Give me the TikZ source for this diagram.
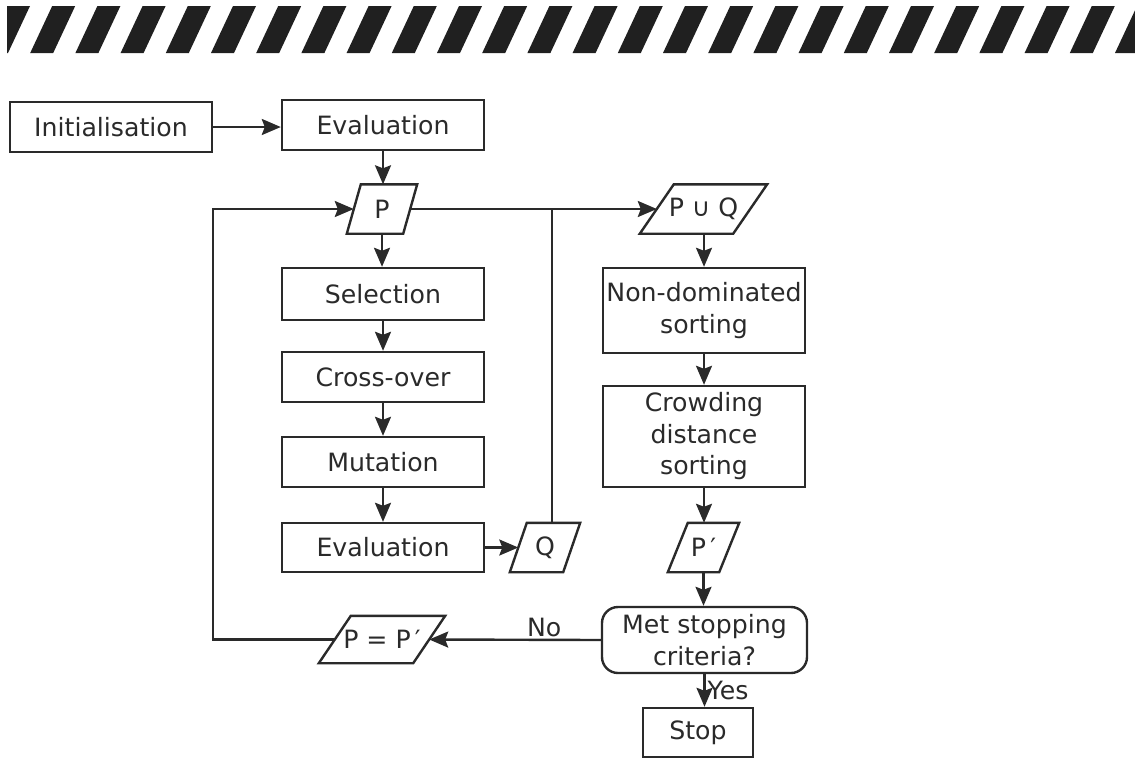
\documentclass[tikz,border=0pt]{standalone}
\usepackage{fontspec}
\setmainfont{DejaVu Sans}
\usetikzlibrary{arrows.meta}
\definecolor{ink}{HTML}{2A2A2A}
\definecolor{stripecol}{HTML}{202020}
\newcommand{\parashape}[2]{\draw[ln] ([xshift=#2pt]#1.north west) -- (#1.north east) -- ([xshift=-#2pt]#1.south east) -- (#1.south west) -- cycle;}
\begin{document}
\begin{tikzpicture}[x=1pt,y=-1pt,
  txt/.style={text=ink, font=\fontsize{25.2}{31.5}\selectfont},
  box/.style={txt, draw=ink, line width=2.4pt, fill=white, minimum width=202pt, minimum height=50pt, inner sep=0pt, align=center},
  para/.style={txt, minimum height=49pt, inner sep=0pt},
  ln/.style={draw=ink, line width=2.4pt},
  arr/.style={ln, -{Stealth[length=19pt,width=16pt,inset=3pt]}}]
\useasboundingbox (0,0) rectangle (1135,758);
% striped band
\begin{scope}
  \clip (7,6) rectangle (1135,53);
  \foreach \k in {0,...,25} {
    \fill[stripecol] ({7+45.2*\k},6) -- ({30+45.2*\k},6) -- ({8+45.2*\k},53) -- ({-15+45.2*\k},53) -- cycle;
  }
\end{scope}
% nodes
\node[box] (init) at (111,127) {Initialisation};
\node[box] (ev1) at (383,125) {Evaluation};
\node[para, minimum width=70pt] (P) at (382,209) {P};
\node[box, minimum height=52pt] (sel) at (383,294) {Selection};
\node[box] (cross) at (383,377) {Cross-over};
\node[box] (mut) at (383,462) {Mutation};
\node[box, minimum height=49pt] (ev2) at (383,547.5) {Evaluation};
\node[para, minimum width=70pt] (Q) at (545,547.5) {Q};
\node[para, minimum width=127pt] (PQ) at (703.5,209) {P ∪ Q};
\node[box, minimum height=85pt] (nds) at (704,310.5) {Non-dominated\\sorting};
\node[box, minimum height=101pt] (cds) at (704,436.5) {Crowding\\distance\\sorting};
\node[para, minimum width=71pt] (Pp) at (703.5,547.5) {P\,′};
\node[box, rounded corners=16pt, minimum width=205pt, minimum height=66pt] (met) at (704.5,640) {Met stopping\\criteria?};
\node[box, minimum width=110pt, minimum height=49pt] (stop) at (698,732.5) {Stop};
\node[para, minimum width=126pt, minimum height=47pt] (PeqP) at (382,639.5) {P = P\,′};
% parallelograms
\parashape{P}{14}
\parashape{Q}{17}
\parashape{PQ}{34}
\parashape{Pp}{20}
\parashape{PeqP}{32}
% connectors
\coordinate (j) at (552,209);
\coordinate (c1) at (213,639.5);
\coordinate (c2) at (213,209);
\draw[arr] (init.east) -- (init.east -| ev1.west);
\draw[arr] (ev1.south) -- (ev1.south |- P.north);
\draw[arr] (P.south) -- (P.south |- sel.north);
\draw[arr] (sel.south) -- (cross.north);
\draw[arr] (cross.south) -- (mut.north);
\draw[arr] (mut.south) -- (ev2.north);
\draw[arr] (ev2.east) -- ([xshift=8.5pt]Q.west);
\draw[ln] (Q.north -| j) -- (j);
\draw[arr] ([xshift=-7pt]P.east) -- ([xshift=17pt]PQ.west);
\draw[arr] (nds.north |- PQ.south) -- (nds.north);
\draw[arr] (nds.south) -- (cds.north);
\draw[arr] (cds.south) -- (cds.south |- Pp.north);
\draw[arr] (Pp.south) -- (Pp.south |- met.north);
\draw[arr] (met.south) -- (met.south |- stop.north) node[txt, pos=0.5, right, inner sep=2pt] {Yes};
\draw[arr] (met.west) -- ([xshift=-16pt]PeqP.east) node[txt, pos=0.33, above, inner sep=2pt] {No};
\draw[arr] ([xshift=16pt]PeqP.west) -- (c1) -- (c2) -- ([xshift=7pt]P.west);
\end{tikzpicture}
\end{document}
